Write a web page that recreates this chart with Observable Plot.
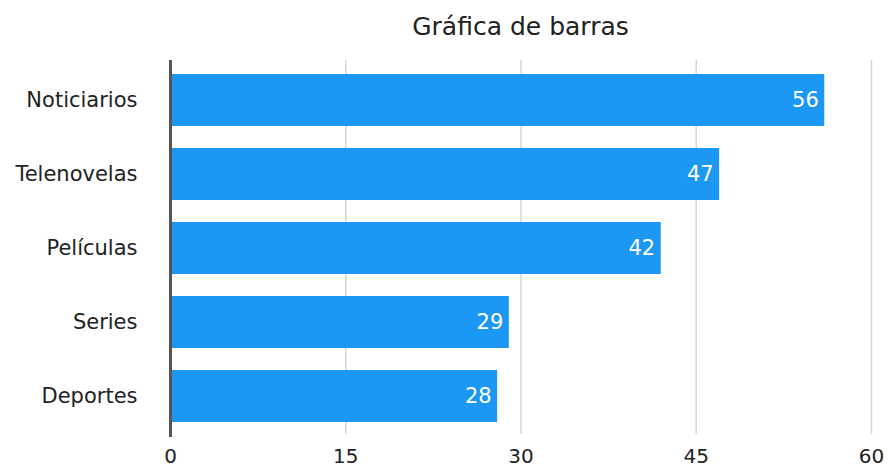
<!DOCTYPE html>
<html>
<head>
<meta charset="utf-8">
<script src="https://cdn.jsdelivr.net/npm/d3@7"></script>
<script src="https://cdn.jsdelivr.net/npm/@observablehq/plot@0.6"></script>
<style>
  html, body { margin: 0; padding: 0; background: #fff; }
  #title { box-sizing: border-box; height: 50px; padding: 12px 17px 0 170px; text-align: center;
           font-family: "DejaVu Sans", sans-serif; font-size: 25px; color: #222; line-height: 29px; }
  #chart svg { display: block; }
</style>
</head>
<body>
<div id="title">Gráfica de barras</div>
<div id="chart"></div>
<script>
const categories = ["Noticiarios", "Telenovelas", "Películas", "Series", "Deportes"];
const values = [56, 47, 42, 29, 28];
const xTicks = [0, 15, 30, 45, 60];

const data = categories.map((c, i) => ({category: c, value: values[i]}));

const chart = Plot.plot({
  width: 888,
  height: 416,
  marginTop: 12,
  marginBottom: 32,
  marginLeft: 170,
  marginRight: 17,
  style: {fontFamily: "DejaVu Sans, sans-serif", fontSize: "20px", color: "#222", background: "#fff", overflow: "visible"},
  x: {domain: [0, 60], ticks: xTicks, tickSize: 0, tickPadding: 14, label: null},
  y: {domain: categories, paddingInner: 0.3, paddingOuter: 0.15, tickSize: 0, tickPadding: 33, label: null},
  marks: [
    Plot.ruleX(xTicks.filter(d => d > 0), {stroke: "#d6d6d6", strokeWidth: 1.5, insetTop: -2, insetBottom: 0}),
    Plot.barX(data, {x: "value", y: "category", fill: "#1a98f3"}),
    Plot.ruleX([0], {stroke: "#555", strokeWidth: 3, insetTop: -2, insetBottom: -3}),
    Plot.axisY({tickSize: 0, tickPadding: 33, fontSize: 21}),
    Plot.text(data, {x: "value", y: "category", text: d => String(d.value), textAnchor: "end", dx: -6,
                     fill: "#fff", fontSize: 21})
  ]
});
document.getElementById("chart").appendChild(chart);
</script>
</body>
</html>
